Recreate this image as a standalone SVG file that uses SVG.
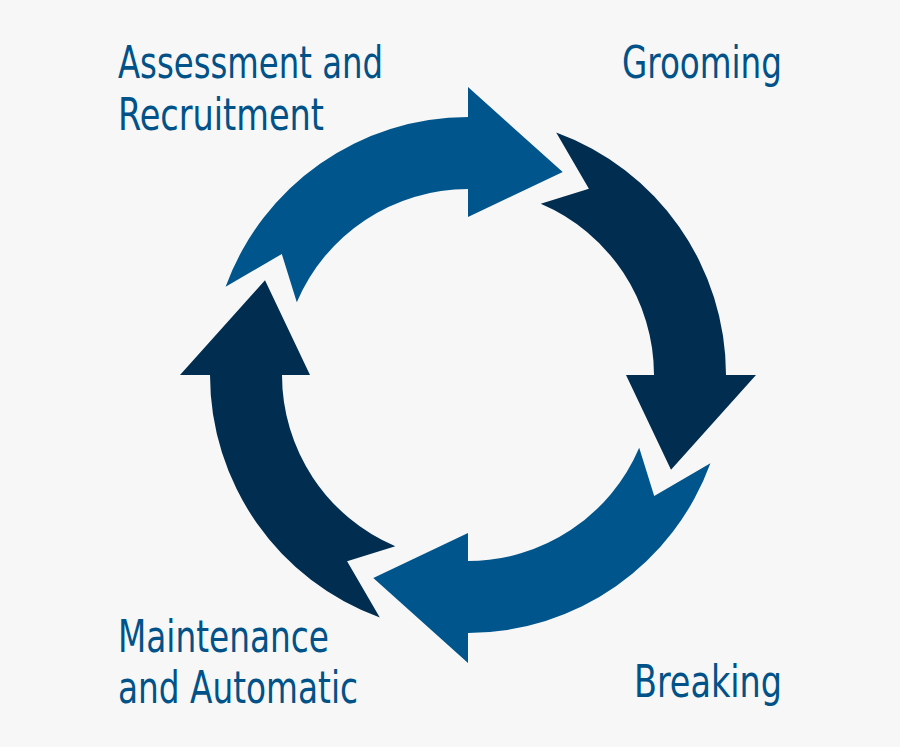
<svg xmlns="http://www.w3.org/2000/svg" width="900" height="747" viewBox="0 0 900 747">
<defs>
<style>
.t{font-family:"DejaVu Sans Condensed","DejaVu Sans",sans-serif;font-stretch:condensed;font-size:44px;fill:#005288}
.a{fill:#00558c}.b{fill:#002d50}
</style>
<path id="arr" d="M225.6,286.8 A258,258 0 0 1 468,117 L468,87 L562.7,172 L468,217 L468,189 A186,186 0 0 0 296.8,302.3 L281.8,254.1 Z"/>
</defs>
<rect width="900" height="747" fill="#f7f7f7"/>
<g id="arrows">
<g id="arrow-top" class="a"><use href="#arr"/></g>
<g id="arrow-right" class="b"><use href="#arr" transform="rotate(90 468 375)"/></g>
<g id="arrow-bottom" class="a"><use href="#arr" transform="rotate(180 468 375)"/></g>
<g id="arrow-left" class="b"><use href="#arr" transform="rotate(270 468 375)"/></g>
</g>
<g id="label-assessment"><text class="t" x="118" y="78" textLength="265" lengthAdjust="spacingAndGlyphs">Assessment and</text><text class="t" x="118" y="130" textLength="206" lengthAdjust="spacingAndGlyphs">Recruitment</text></g>
<g id="label-grooming"><text class="t" x="622" y="78" textLength="160" lengthAdjust="spacingAndGlyphs">Grooming</text></g>
<g id="label-maintenance"><text class="t" x="118" y="652" textLength="211" lengthAdjust="spacingAndGlyphs">Maintenance</text><text class="t" x="118" y="703" textLength="240" lengthAdjust="spacingAndGlyphs">and Automatic</text></g>
<g id="label-breaking"><text class="t" x="634" y="697" textLength="148" lengthAdjust="spacingAndGlyphs">Breaking</text></g>
</svg>
